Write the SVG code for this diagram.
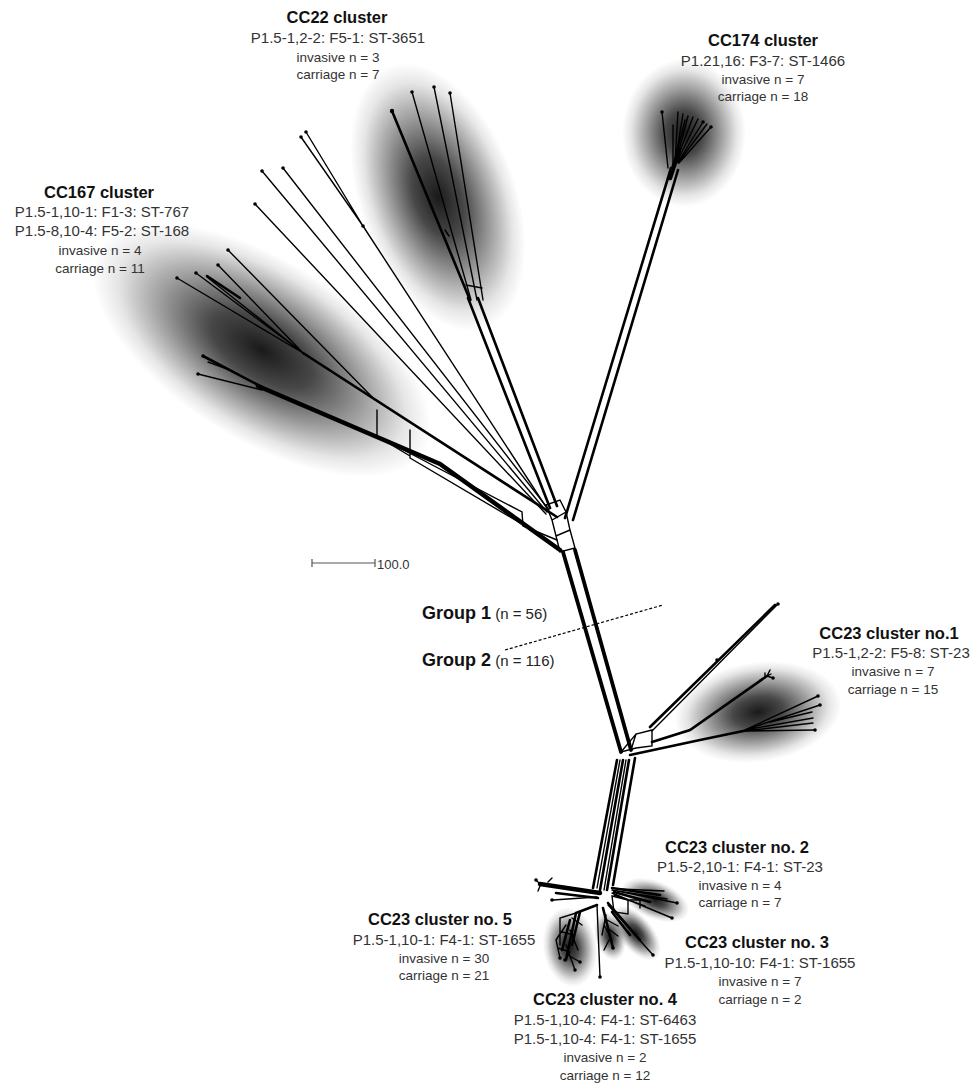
<svg xmlns="http://www.w3.org/2000/svg" width="976" height="1083" viewBox="0 0 976 1083">
<defs>
<radialGradient id="blob" cx="0.5" cy="0.5" r="0.5">
<stop offset="0" stop-color="#000" stop-opacity="0.9"/>
<stop offset="0.3" stop-color="#000" stop-opacity="0.72"/>
<stop offset="0.6" stop-color="#000" stop-opacity="0.38"/>
<stop offset="0.85" stop-color="#000" stop-opacity="0.1"/>
<stop offset="1" stop-color="#000" stop-opacity="0"/>
</radialGradient>
<style>
text{font-family:"Liberation Sans",Arial,sans-serif;text-anchor:middle}
.ti{font-size:16.5px;font-weight:bold;fill:#111}
.de{font-size:15px;fill:#333}
.sm{font-size:13.5px;fill:#333}
.e{fill:none;stroke:#000;stroke-width:1.4;stroke-linecap:round}
.m{fill:none;stroke:#000;stroke-width:2.6;stroke-linecap:round}
.b{fill:none;stroke:#000;stroke-width:4.5;stroke-linecap:round}
.d{fill:#000}
</style>
</defs>
<rect width="976" height="1083" fill="#fff"/>

<g id="shading">
<ellipse cx="438" cy="197" rx="78" ry="140" transform="rotate(-20 438 197)" fill="url(#blob)"/>
<ellipse cx="262" cy="350" rx="192" ry="90" transform="rotate(32 262 350)" fill="url(#blob)"/>
<ellipse cx="684" cy="133" rx="62" ry="74" fill="url(#blob)"/>
<ellipse cx="758" cy="712" rx="84" ry="50" transform="rotate(-8 758 712)" fill="url(#blob)"/>
<ellipse cx="655" cy="900" rx="36" ry="19" transform="rotate(22 655 900)" fill="url(#blob)"/>
<ellipse cx="636" cy="933" rx="33" ry="17" transform="rotate(50 636 933)" fill="url(#blob)"/>
<ellipse cx="610" cy="936" rx="15" ry="25" transform="rotate(-15 610 936)" fill="url(#blob)"/>
<ellipse cx="570" cy="947" rx="27" ry="40" transform="rotate(-8 570 947)" fill="url(#blob)"/>
</g>

<g id="connectors">
<!-- long thin lines to upper hub -->
<path class="e" d="M306,132 L363,226 M301,137 L363,226 M363,226 L548,510"/>
<path class="e" d="M262,171 L547,512 M283,168 L549,510 M255,204 L546,514"/>
<!-- CC22 branch -->
<path class="m" d="M392,111 L470,300"/>
<path class="e" d="M412,92 L471,300 M434,87 L477,300 M450,93 L483,300"/>
<path class="m" d="M468,298 L550,508 M478,298 L557,506"/>
<path class="e" d="M445,230 L449,236 M466,285 L482,288"/>
<!-- CC174 branch -->
<path class="m" d="M565,518 L671,168 M573,520 L678,170"/>
<path class="e" d="M668,168 L662,112 M675,162 L678,112 M675,162 L683,114 M676,162 L688,116 M676,162 L693,117 M677,162 L698,119 M678,162 L703,122 M678,163 L707,124 M679,163 L711,127 M673,165 L673,125 M674,164 L685,120"/>
<path class="b" d="M670,178 L679,150"/>
<!-- CC167 -->
<path class="e" d="M228,250 L375,400 M218,265 L303,353 M207,277 L303,353 M196,273 L303,353 M177,278 L303,353"/>
<path class="m" d="M207,276 L240,298"/>
<path class="m" d="M303,353 L557,517"/>
<path class="m" d="M203,356 L262,387"/>
<path class="e" d="M198,374 L262,390 M208,362 L230,370"/>
<path class="b" d="M258,386 L440,464 L560,550"/>
<path class="e" d="M377,410 L377,436 L410,456 M410,430 L410,458 M377,436 L522,512 L523,526 L557,540 M410,458 L527,527"/>
<!-- upper hub -->
<path class="e" d="M546,505 L560,500 L566,512 L552,520 Z M552,520 L556,536 L570,530 L566,512 M556,536 L560,552 L575,548 L570,530"/>
<!-- trunk -->
<path class="b" d="M563,552 L621,752 M575,550 L631,750" style="stroke-width:3.8"/>
<!-- lower hub / CC23 no.1 -->
<path class="e" d="M621,752 L636,734 L652,730 L652,746 L636,748 Z M631,750 L636,734"/>
<path class="m" d="M650,727 L775,605"/>
<path class="e" d="M652,731 L778,604"/>
<path class="m" d="M652,742 L690,730 L767,676"/>
<path class="e" d="M767,676 L773,678 M765,677 L765,673 M767,676 L770,670 M760,680 L771,674"/>
<path class="m" d="M630,755 L700,740 L748,730"/>
<path class="e" d="M745,730 L818,696 M745,730 L820,705 M745,730 L813,718 M745,731 L813,723 M745,731 L815,730 M770,722 L812,712"/>
<!-- lower trunk -->
<path class="m" d="M617,760 L593,888 M623,760 L600,890 M629,760 L607,890 M635,758 L613,885"/>
<path class="e" d="M620,760 L597,888 M626,760 L604,890"/>
<!-- bottom hub -->
<path class="b" d="M600,893 L540,884"/>
<path class="m" d="M598,898 L556,893"/>
<path class="e" d="M597,897 L553,900 M540,884 L536,880 M540,886 L538,891 M548,882 L552,878"/>
<path class="m" d="M612,888 L660,895 M614,892 L650,902"/>
<path class="e" d="M612,890 L677,903 M612,893 L672,918 M614,895 L645,906 M612,890 L667,899 M620,889 L664,891"/>
<path class="e" d="M612,896 L628,900 L628,914 L614,912 Z M630,900 L640,900 L640,908"/>
<path class="e" d="M608,905 L653,955"/>
<path class="m" d="M608,903 L640,940 M612,912 L630,935"/>
<path class="m" d="M603,908 L613,948"/>
<path class="e" d="M606,915 L602,935 M610,930 L618,936 M604,925 L612,940 M607,920 L618,926 M609,940 L604,950"/>
<path class="m" d="M597,905 L576,913 L566,960"/>
<path class="m" d="M580,912 L572,945 M570,920 L562,950"/>
<path class="e" d="M576,913 L560,918 L560,945 M566,925 L556,940 L560,958 M570,930 L578,950 M566,945 L575,970 M562,932 L574,935 M558,948 L570,952 M568,955 L580,962 M572,918 L582,925"/>
<path class="e" d="M597,905 L600,977"/>
</g>

<g id="tips">
<circle class="d" cx="306" cy="132" r="1.8"/><circle class="d" cx="301" cy="137" r="1.8"/><circle class="d" cx="363" cy="226" r="1.8"/>
<circle class="d" cx="262" cy="171" r="1.8"/><circle class="d" cx="283" cy="168" r="1.8"/><circle class="d" cx="255" cy="204" r="1.8"/>
<circle class="d" cx="392" cy="111" r="2.2"/><circle class="d" cx="412" cy="92" r="1.8"/><circle class="d" cx="434" cy="87" r="1.8"/><circle class="d" cx="450" cy="93" r="1.8"/>
<circle class="d" cx="662" cy="112" r="1.8"/><circle class="d" cx="703" cy="122" r="1.8"/><circle class="d" cx="711" cy="127" r="1.8"/>
<circle class="d" cx="228" cy="250" r="1.8"/><circle class="d" cx="218" cy="265" r="1.8"/><circle class="d" cx="196" cy="273" r="1.8"/><circle class="d" cx="177" cy="278" r="1.8"/><circle class="d" cx="203" cy="356" r="1.8"/><circle class="d" cx="198" cy="374" r="1.8"/>
<circle class="d" cx="778" cy="604" r="1.8"/><circle class="d" cx="717" cy="660" r="1.8"/><circle class="d" cx="773" cy="678" r="1.8"/><circle class="d" cx="818" cy="696" r="1.8"/><circle class="d" cx="820" cy="705" r="1.8"/><circle class="d" cx="815" cy="730" r="1.8"/>
<circle class="d" cx="677" cy="903" r="1.8"/><circle class="d" cx="672" cy="918" r="1.8"/><circle class="d" cx="653" cy="955" r="1.8"/><circle class="d" cx="600" cy="977" r="1.8"/><circle class="d" cx="536" cy="880" r="1.8"/><circle class="d" cx="552" cy="900" r="1.8"/><circle class="d" cx="565" cy="960" r="1.8"/><circle class="d" cx="575" cy="970" r="1.8"/><circle class="d" cx="613" cy="948" r="1.8"/><circle class="d" cx="560" cy="958" r="1.8"/><circle class="d" cx="580" cy="962" r="1.8"/>
</g>

<g id="cc22-label">
<text class="ti" x="337" y="23">CC22 cluster</text>
<text class="de" x="338" y="43">P1.5-1,2-2: F5-1: ST-3651</text>
<text class="sm" x="338" y="62">invasive n = 3</text>
<text class="sm" x="338" y="79">carriage n = 7</text>
</g>
<g id="cc174-label">
<text class="ti" x="763" y="46">CC174 cluster</text>
<text class="de" x="763" y="66">P1.21,16: F3-7: ST-1466</text>
<text class="sm" x="763" y="84">invasive n = 7</text>
<text class="sm" x="763" y="101">carriage n = 18</text>
</g>
<g id="cc167-label">
<text class="ti" x="99" y="198">CC167 cluster</text>
<text class="de" x="102" y="217">P1.5-1,10-1: F1-3: ST-767</text>
<text class="de" x="102" y="236">P1.5-8,10-4: F5-2: ST-168</text>
<text class="sm" x="100" y="255">invasive n = 4</text>
<text class="sm" x="100" y="273">carriage n = 11</text>
</g>
<g id="scalebar">
<path d="M312,563 L375,563 M312,559 L312,567 M375,559 L375,567" stroke="#555" stroke-width="1.2" fill="none"/>
<text x="377" y="569" style="font-size:13px;fill:#333;text-anchor:start">100.0</text>
</g>
<g id="groups">
<path d="M505,650 L663,605" stroke="#000" stroke-width="1.2" stroke-dasharray="3,2" fill="none"/>
<text x="422" y="619" style="text-anchor:start"><tspan style="font-size:18px;font-weight:bold;fill:#111">Group 1</tspan><tspan style="font-size:15px;fill:#222"> (n = 56)</tspan></text>
<text x="422" y="666" style="text-anchor:start"><tspan style="font-size:18px;font-weight:bold;fill:#111">Group 2</tspan><tspan style="font-size:15px;fill:#222"> (n = 116)</tspan></text>
</g>
<g id="cc23-1-label">
<text class="ti" x="889" y="639">CC23 cluster no.1</text>
<text class="de" x="891" y="658">P1.5-1,2-2: F5-8: ST-23</text>
<text class="sm" x="893" y="676">invasive n = 7</text>
<text class="sm" x="893" y="694">carriage n = 15</text>
</g>
<g id="cc23-2-label">
<text class="ti" x="737" y="853">CC23 cluster no. 2</text>
<text class="de" x="740" y="872">P1.5-2,10-1: F4-1: ST-23</text>
<text class="sm" x="740" y="890">invasive n = 4</text>
<text class="sm" x="740" y="907">carriage n = 7</text>
</g>
<g id="cc23-3-label">
<text class="ti" x="757" y="948">CC23 cluster no. 3</text>
<text class="de" x="760" y="968">P1.5-1,10-10: F4-1: ST-1655</text>
<text class="sm" x="760" y="986">invasive n = 7</text>
<text class="sm" x="760" y="1004">carriage n = 2</text>
</g>
<g id="cc23-4-label">
<text class="ti" x="605" y="1005">CC23 cluster no. 4</text>
<text class="de" x="605" y="1025">P1.5-1,10-4: F4-1: ST-6463</text>
<text class="de" x="605" y="1044">P1.5-1,10-4: F4-1: ST-1655</text>
<text class="sm" x="605" y="1062">invasive n = 2</text>
<text class="sm" x="605" y="1080">carriage n = 12</text>
</g>
<g id="cc23-5-label">
<text class="ti" x="440" y="925">CC23 cluster no. 5</text>
<text class="de" x="444" y="945">P1.5-1,10-1: F4-1: ST-1655</text>
<text class="sm" x="444" y="963">invasive n = 30</text>
<text class="sm" x="444" y="980">carriage n = 21</text>
</g>
</svg>
